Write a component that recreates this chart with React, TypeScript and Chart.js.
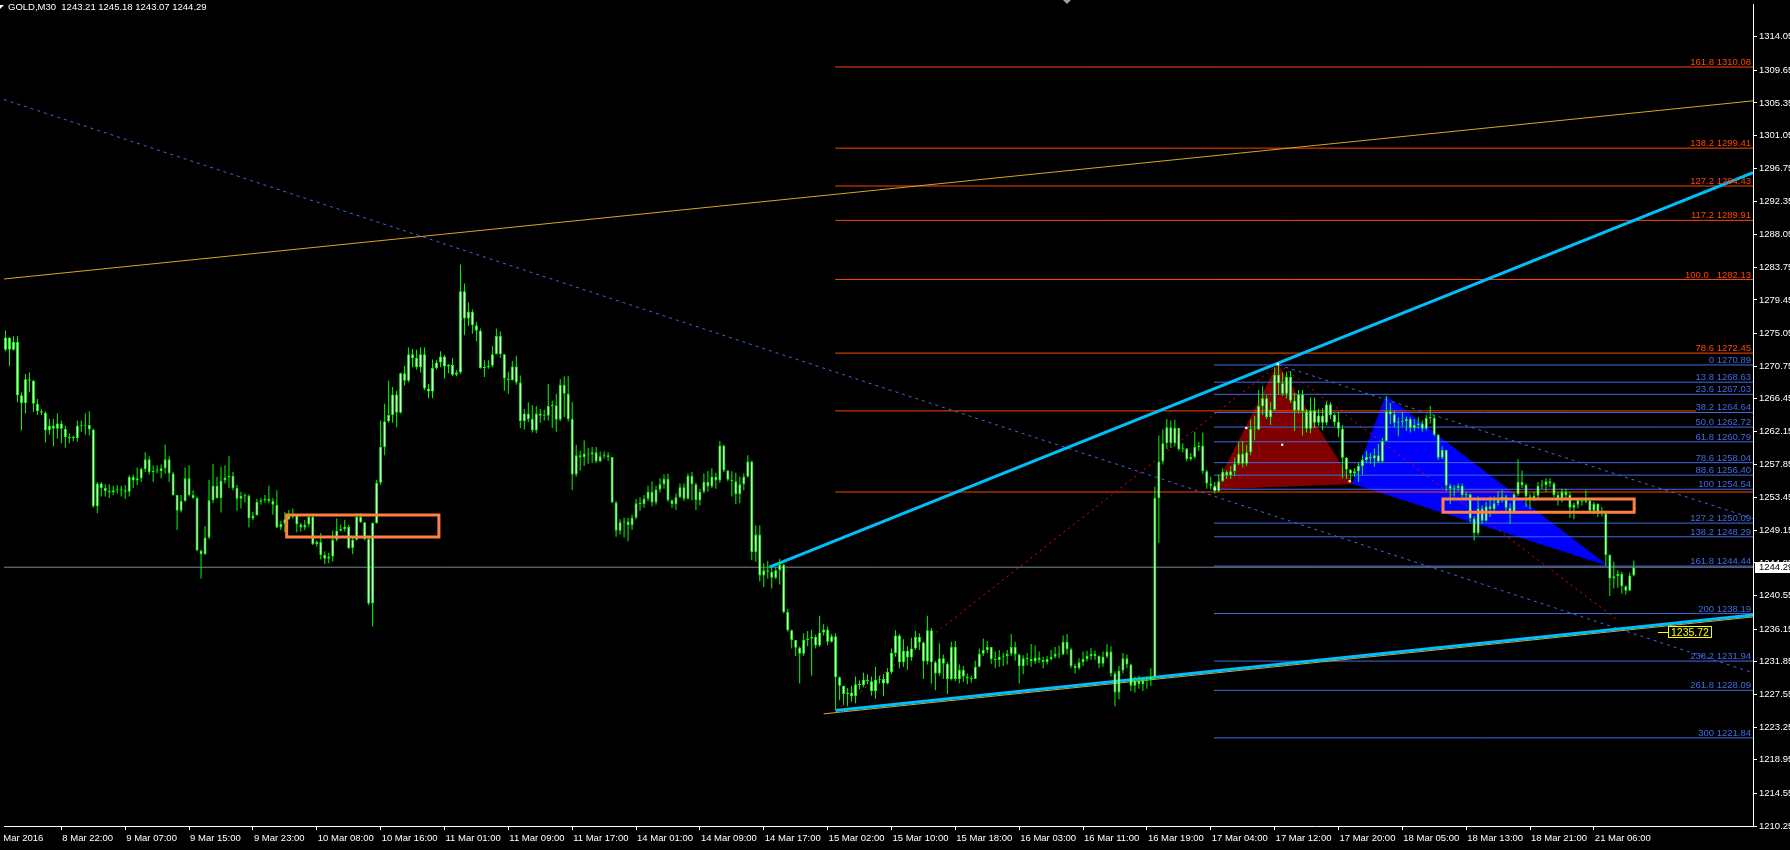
import React, { useEffect, useRef } from "react";
import { Chart, registerables } from "chart.js";

Chart.register(...registerables);

// ---------------- data ----------------
const SYMBOL = "GOLD,M30";
const FIRST_OPEN = 1272.9; // open of the first visible M30 bar (later opens = previous close)

const closes: number[] = [
  1274.5, 1272.9, 1273.9, 1266.9, 1265.9, 1269.0, 1268.8, 1265.8, 1264.8, 1264.6,
  1262.3, 1262.9, 1262.5, 1263.2, 1262.5, 1261.4, 1261.3, 1261.3, 1262.9, 1262.9,
  1263.0, 1262.4, 1252.3, 1255.3, 1254.7, 1254.3, 1254.1, 1254.4, 1254.5, 1254.4,
  1254.2, 1256.2, 1255.7, 1256.0, 1257.2, 1258.5, 1256.8, 1256.9, 1256.9, 1257.3,
  1258.5, 1256.6, 1253.8, 1251.7, 1253.0, 1256.0, 1253.8, 1253.4, 1246.5, 1246.0,
  1248.2, 1253.1, 1255.0, 1253.4, 1255.7, 1256.1, 1256.3, 1254.7, 1253.3, 1253.7,
  1253.7, 1250.7, 1251.1, 1252.9, 1253.1, 1253.3, 1253.0, 1252.5, 1249.5, 1250.0,
  1250.6, 1251.1, 1251.2, 1249.9, 1249.5, 1249.9, 1250.9, 1247.3, 1247.6, 1245.9,
  1245.4, 1245.7, 1247.9, 1249.1, 1249.3, 1249.6, 1246.8, 1247.9, 1250.9, 1250.2,
  1248.0, 1239.5, 1250.1, 1255.4, 1260.1, 1263.5, 1264.3, 1267.0, 1264.6, 1269.8,
  1268.8, 1272.3, 1271.8, 1270.6, 1272.3, 1267.8, 1267.4, 1270.5, 1271.2, 1272.0,
  1270.7, 1270.9, 1269.6, 1269.9, 1280.6, 1277.0, 1277.9, 1276.1, 1275.4, 1270.5,
  1270.6, 1270.8, 1272.3, 1274.7, 1272.3, 1269.1, 1268.9, 1270.7, 1268.6, 1263.5,
  1264.5, 1263.8, 1262.3, 1264.5, 1264.2, 1264.2, 1265.5, 1265.6, 1263.7, 1268.3,
  1267.1, 1263.8, 1256.5, 1259.0, 1258.8, 1259.2, 1259.1, 1259.4, 1258.2, 1258.9,
  1259.0, 1258.8, 1252.8, 1249.1, 1250.2, 1250.3, 1249.8, 1250.8, 1252.7, 1252.6,
  1253.3, 1254.2, 1252.8, 1254.5, 1255.2, 1255.9, 1253.1, 1252.6, 1253.5, 1254.8,
  1253.3, 1256.3, 1255.2, 1253.1, 1254.2, 1255.5, 1254.9, 1256.2, 1255.7, 1260.3,
  1257.0, 1255.8, 1255.6, 1253.9, 1255.2, 1256.2, 1258.2, 1246.3, 1248.6, 1243.2,
  1243.9, 1243.7, 1242.9, 1243.9, 1244.6, 1238.4, 1236.0, 1234.7, 1233.7, 1232.9,
  1234.7, 1234.9, 1235.1, 1234.0, 1235.7, 1236.1, 1234.5, 1235.2, 1229.8, 1228.7,
  1227.6, 1227.8, 1227.3, 1228.9, 1228.8, 1229.5, 1229.3, 1228.0, 1229.5, 1229.6,
  1229.0, 1230.5, 1233.0, 1235.3, 1231.8, 1233.3, 1232.4, 1233.6, 1235.1, 1234.4,
  1231.9, 1236.0, 1231.8, 1230.3, 1232.3, 1231.6, 1229.6, 1233.8, 1229.6, 1230.8,
  1229.9, 1229.7, 1229.6, 1231.2, 1232.9, 1233.4, 1233.8, 1232.2, 1232.1, 1232.5,
  1232.6, 1232.9, 1233.8, 1232.8, 1231.3, 1232.3, 1232.2, 1231.9, 1232.4, 1232.1,
  1231.8, 1232.2, 1232.5, 1232.9, 1232.8, 1234.5, 1233.5, 1231.3, 1231.0, 1231.8,
  1232.2, 1232.6, 1232.9, 1232.6, 1231.6, 1232.5, 1233.2, 1230.3, 1227.8, 1230.7,
  1232.3, 1231.5, 1228.7, 1229.4, 1228.9, 1229.4, 1229.5, 1229.8, 1253.4, 1258.2,
  1260.6, 1262.7, 1260.6, 1262.6, 1259.8, 1259.9, 1258.5, 1258.8, 1260.1, 1260.3,
  1256.9, 1255.3, 1255.0, 1254.3, 1255.6, 1256.8, 1256.4, 1256.9, 1257.9, 1259.2,
  1257.9, 1259.4, 1262.5, 1262.4, 1265.5, 1266.5, 1264.0, 1265.0, 1269.6, 1268.5,
  1267.1, 1269.3, 1266.2, 1264.9, 1267.0, 1264.8, 1262.5, 1264.9, 1263.3, 1264.2,
  1263.3, 1265.7, 1264.3, 1263.4, 1262.5, 1258.7, 1257.1, 1256.6, 1256.9, 1257.6,
  1258.4, 1258.8, 1258.6, 1259.0, 1258.2, 1260.9, 1264.8, 1264.4, 1263.3, 1263.4,
  1263.5, 1263.8, 1262.6, 1263.0, 1263.2, 1262.5, 1263.9, 1263.9, 1261.7, 1258.7,
  1259.7, 1255.0, 1254.6, 1254.7, 1255.0, 1253.8, 1253.9, 1250.7, 1248.8, 1252.0,
  1250.4, 1252.3, 1251.9, 1252.7, 1253.1, 1253.6, 1252.1, 1251.4, 1253.9, 1255.5,
  1255.1, 1253.6, 1253.3, 1253.7, 1255.0, 1255.1, 1255.6, 1255.3, 1253.8, 1253.1,
  1254.2, 1253.8, 1252.1, 1252.5, 1253.1, 1252.9, 1253.1, 1251.7, 1252.6, 1251.5,
  1251.4, 1245.9, 1242.8, 1243.1, 1243.4, 1241.8, 1241.2, 1243.21, 1244.29,
];

const highs: number[] = [
  1275.4, 1274.5, 1274.7, 1274.7, 1267.3, 1269.7, 1269.9, 1268.9, 1266.4, 1265.1,
  1264.8, 1263.8, 1263.8, 1264.5, 1263.6, 1262.9, 1261.9, 1261.6, 1263.6, 1263.6,
  1264.5, 1264.8, 1262.5, 1255.5, 1255.5, 1255.2, 1255.2, 1255.0, 1255.1, 1255.0,
  1255.1, 1256.4, 1256.5, 1257.4, 1257.4, 1259.4, 1258.9, 1257.7, 1257.7, 1257.8,
  1260.4, 1258.9, 1256.8, 1253.8, 1253.8, 1257.4, 1257.7, 1254.4, 1253.6, 1246.6,
  1249.7, 1255.8, 1257.9, 1256.2, 1257.5, 1257.7, 1258.9, 1256.8, 1255.1, 1254.2,
  1254.0, 1253.9, 1251.6, 1253.3, 1253.4, 1253.8, 1255.0, 1253.4, 1254.4, 1250.4,
  1251.6, 1251.8, 1252.0, 1251.3, 1250.1, 1250.5, 1251.2, 1251.2, 1247.8, 1248.8,
  1246.4, 1246.2, 1249.1, 1250.7, 1249.9, 1250.5, 1249.9, 1248.2, 1251.4, 1251.4,
  1250.2, 1248.3, 1250.2, 1255.8, 1263.6, 1265.8, 1268.8, 1268.0, 1267.5, 1269.9,
  1270.8, 1273.2, 1273.0, 1272.9, 1273.2, 1273.2, 1268.4, 1271.6, 1271.5, 1272.7,
  1272.2, 1271.0, 1271.8, 1270.2, 1284.1, 1281.6, 1279.1, 1278.2, 1276.5, 1275.7,
  1271.5, 1271.5, 1273.4, 1275.7, 1275.3, 1272.3, 1270.0, 1271.4, 1272.1, 1269.5,
  1265.1, 1266.0, 1265.6, 1265.5, 1265.1, 1265.0, 1268.4, 1266.2, 1267.1, 1269.0,
  1269.4, 1269.4, 1266.0, 1260.4, 1259.6, 1261.0, 1260.0, 1260.1, 1260.1, 1259.5,
  1259.5, 1259.4, 1258.8, 1253.0, 1250.6, 1250.8, 1250.8, 1251.2, 1253.3, 1253.5,
  1253.8, 1255.0, 1255.6, 1255.0, 1256.0, 1256.5, 1256.6, 1253.2, 1254.0, 1255.3,
  1255.3, 1256.6, 1256.8, 1255.4, 1254.6, 1256.6, 1256.9, 1257.3, 1256.7, 1260.9,
  1260.4, 1257.1, 1256.9, 1256.7, 1256.2, 1256.6, 1259.0, 1258.3, 1249.8, 1249.8,
  1244.8, 1245.1, 1244.3, 1244.3, 1245.4, 1244.7, 1238.8, 1236.1, 1234.7, 1233.9,
  1235.6, 1235.9, 1236.1, 1235.4, 1237.9, 1236.8, 1236.5, 1235.5, 1235.6, 1229.9,
  1228.7, 1228.4, 1228.7, 1229.9, 1229.4, 1230.4, 1230.2, 1229.9, 1231.2, 1230.0,
  1230.2, 1231.0, 1233.6, 1236.0, 1235.5, 1234.8, 1233.9, 1235.0, 1235.9, 1235.6,
  1234.5, 1237.9, 1236.3, 1232.0, 1234.3, 1232.8, 1231.8, 1234.5, 1234.6, 1231.5,
  1231.3, 1230.3, 1230.0, 1232.0, 1233.6, 1234.9, 1234.6, 1233.5, 1233.2, 1233.4,
  1233.0, 1233.4, 1235.5, 1234.5, 1232.9, 1232.7, 1233.0, 1234.2, 1234.0, 1233.2,
  1232.5, 1232.6, 1233.4, 1233.8, 1234.0, 1235.3, 1235.5, 1233.7, 1231.6, 1232.3,
  1233.2, 1233.3, 1233.7, 1233.3, 1232.7, 1233.2, 1234.2, 1233.9, 1230.6, 1231.3,
  1233.0, 1232.8, 1231.6, 1229.9, 1230.0, 1229.7, 1229.9, 1231.0, 1254.9, 1261.6,
  1262.4, 1263.8, 1263.6, 1263.7, 1261.8, 1260.6, 1260.0, 1259.3, 1262.1, 1260.8,
  1262.0, 1257.1, 1256.2, 1255.5, 1256.5, 1257.3, 1257.0, 1257.6, 1258.7, 1260.8,
  1260.9, 1260.4, 1263.7, 1264.2, 1267.6, 1268.1, 1266.9, 1266.0, 1270.6, 1271.0,
  1269.9, 1270.0, 1270.1, 1267.2, 1267.6, 1267.6, 1265.1, 1266.6, 1266.6, 1265.1,
  1265.2, 1266.1, 1266.0, 1264.5, 1264.7, 1263.0, 1258.8, 1257.2, 1257.3, 1258.0,
  1259.0, 1259.6, 1259.3, 1259.9, 1260.5, 1261.3, 1266.8, 1265.9, 1264.9, 1264.0,
  1264.7, 1264.1, 1264.0, 1263.8, 1264.0, 1263.6, 1264.3, 1265.5, 1264.3, 1261.8,
  1260.2, 1259.6, 1255.3, 1255.1, 1255.3, 1255.3, 1254.2, 1254.0, 1251.0, 1253.6,
  1252.4, 1252.9, 1253.6, 1253.6, 1254.3, 1254.4, 1253.8, 1252.7, 1254.1, 1258.5,
  1257.0, 1255.3, 1254.0, 1254.2, 1255.5, 1255.8, 1256.0, 1256.0, 1255.5, 1254.1,
  1254.6, 1254.6, 1254.2, 1252.8, 1253.3, 1253.3, 1254.4, 1253.0, 1252.9, 1252.7,
  1252.2, 1251.6, 1246.0, 1245.0, 1243.9, 1243.7, 1241.9, 1243.6, 1245.18,
];

const lows: number[] = [
  1272.7, 1270.8, 1272.8, 1266.0, 1262.3, 1264.5, 1267.3, 1264.7, 1264.3, 1264.3,
  1260.7, 1261.7, 1260.2, 1261.2, 1260.6, 1260.0, 1260.6, 1260.9, 1260.8, 1262.1,
  1261.7, 1261.6, 1252.1, 1251.4, 1253.6, 1253.6, 1253.4, 1253.8, 1254.0, 1253.6,
  1253.3, 1253.6, 1254.7, 1255.1, 1255.5, 1256.8, 1256.5, 1255.5, 1256.6, 1256.0,
  1256.6, 1255.5, 1253.7, 1249.2, 1251.5, 1252.9, 1253.6, 1253.3, 1246.4, 1242.8,
  1245.9, 1248.0, 1252.7, 1253.3, 1251.5, 1255.3, 1254.7, 1254.4, 1251.7, 1252.0,
  1252.8, 1249.5, 1250.5, 1251.1, 1252.5, 1252.8, 1252.7, 1251.2, 1249.4, 1249.2,
  1248.9, 1250.5, 1250.7, 1248.9, 1249.0, 1249.2, 1249.6, 1247.2, 1247.0, 1245.3,
  1244.7, 1244.8, 1245.0, 1247.7, 1249.0, 1249.0, 1246.7, 1246.0, 1247.8, 1250.1,
  1247.8, 1239.3, 1236.5, 1250.0, 1255.1, 1259.0, 1263.3, 1263.3, 1262.7, 1264.5,
  1268.2, 1268.6, 1270.6, 1270.3, 1269.9, 1267.6, 1266.5, 1266.5, 1270.3, 1270.6,
  1269.1, 1269.8, 1269.4, 1269.4, 1269.7, 1274.8, 1276.0, 1275.0, 1274.0, 1270.4,
  1269.3, 1270.4, 1270.6, 1272.3, 1271.8, 1267.5, 1267.1, 1268.8, 1268.3, 1262.6,
  1262.4, 1263.4, 1262.0, 1261.9, 1263.3, 1263.6, 1263.6, 1262.6, 1262.1, 1263.5,
  1264.0, 1263.5, 1254.4, 1256.2, 1257.0, 1257.6, 1257.9, 1258.0, 1258.0, 1258.1,
  1258.6, 1258.3, 1252.7, 1248.3, 1248.6, 1248.2, 1247.7, 1249.2, 1250.6, 1251.7,
  1252.1, 1253.0, 1252.3, 1252.5, 1254.1, 1254.6, 1252.9, 1252.1, 1251.8, 1253.4,
  1253.0, 1253.2, 1253.1, 1251.8, 1252.4, 1254.0, 1254.2, 1254.7, 1254.6, 1255.4,
  1256.8, 1255.6, 1253.6, 1252.6, 1252.7, 1254.4, 1256.1, 1245.2, 1245.0, 1242.4,
  1241.7, 1242.8, 1241.5, 1242.7, 1242.0, 1238.2, 1235.8, 1233.6, 1232.6, 1229.0,
  1232.6, 1233.9, 1230.0, 1233.6, 1233.8, 1235.3, 1234.0, 1234.4, 1225.5, 1226.8,
  1226.2, 1226.0, 1226.6, 1226.4, 1228.2, 1228.5, 1228.9, 1227.4, 1227.0, 1229.0,
  1227.3, 1228.9, 1230.2, 1232.5, 1231.0, 1231.2, 1230.8, 1232.0, 1233.4, 1233.4,
  1229.6, 1231.5, 1229.0, 1228.1, 1230.0, 1229.6, 1227.6, 1229.4, 1229.3, 1229.0,
  1229.2, 1228.9, 1229.1, 1229.7, 1231.1, 1232.6, 1233.0, 1231.6, 1231.0, 1231.2,
  1231.3, 1231.5, 1232.6, 1232.0, 1229.0, 1230.2, 1231.4, 1231.2, 1231.6, 1231.7,
  1231.0, 1231.5, 1232.0, 1232.3, 1232.3, 1232.7, 1232.8, 1231.0, 1230.3, 1230.8,
  1231.3, 1231.9, 1232.1, 1232.1, 1231.0, 1231.2, 1232.3, 1229.9, 1226.0, 1226.9,
  1230.3, 1231.0, 1228.0, 1227.8, 1228.3, 1228.0, 1228.3, 1228.7, 1229.5, 1247.5,
  1257.8, 1259.8, 1260.0, 1260.2, 1259.6, 1259.4, 1258.2, 1258.3, 1258.6, 1259.6,
  1256.6, 1254.6, 1254.5, 1254.0, 1254.2, 1255.5, 1255.9, 1255.9, 1256.3, 1257.7,
  1257.4, 1257.6, 1259.0, 1261.0, 1262.3, 1264.3, 1263.8, 1263.0, 1264.9, 1267.0,
  1266.8, 1266.5, 1265.9, 1262.2, 1264.5, 1261.6, 1262.0, 1261.9, 1262.6, 1262.9,
  1262.3, 1263.0, 1263.8, 1262.9, 1261.4, 1256.0, 1255.9, 1255.5, 1256.2, 1255.5,
  1256.5, 1258.0, 1257.9, 1257.5, 1258.0, 1258.0, 1260.9, 1263.1, 1262.7, 1261.5,
  1262.8, 1262.2, 1262.0, 1262.2, 1262.5, 1262.1, 1262.3, 1263.2, 1261.5, 1258.4,
  1258.5, 1254.3, 1252.6, 1253.6, 1254.3, 1253.5, 1253.1, 1250.2, 1247.8, 1248.5,
  1250.0, 1250.3, 1250.9, 1251.5, 1252.4, 1252.8, 1251.7, 1250.0, 1251.3, 1253.7,
  1254.7, 1252.2, 1251.9, 1253.0, 1253.4, 1254.6, 1254.2, 1254.8, 1253.5, 1252.4,
  1252.8, 1253.4, 1250.8, 1250.6, 1252.0, 1252.4, 1252.7, 1251.4, 1251.3, 1250.9,
  1251.0, 1244.5, 1240.5, 1241.5, 1241.6, 1240.8, 1240.7, 1241.2, 1243.07,
];

// time axis (bar index of each label) and labels
const xTickBars = [-2.8, 14, 30, 46, 62, 78, 94, 110, 126, 142, 158, 174, 190, 206, 222, 238, 254, 270, 286, 302, 318, 334, 350, 366, 382, 398];
const xTickLabels = [
  "7 Mar 2016", "8 Mar 22:00", "9 Mar 07:00", "9 Mar 15:00", "9 Mar 23:00", "10 Mar 08:00",
  "10 Mar 16:00", "11 Mar 01:00", "11 Mar 09:00", "11 Mar 17:00", "14 Mar 01:00", "14 Mar 09:00",
  "14 Mar 17:00", "15 Mar 02:00", "15 Mar 10:00", "15 Mar 18:00", "16 Mar 03:00", "16 Mar 11:00",
  "16 Mar 19:00", "17 Mar 04:00", "17 Mar 12:00", "17 Mar 20:00", "18 Mar 05:00", "18 Mar 13:00",
  "18 Mar 21:00", "21 Mar 06:00",
];
const yTickValues = [
  1314.05, 1309.65, 1305.35, 1301.05, 1296.75, 1292.35, 1288.05, 1283.75, 1279.45, 1275.05,
  1270.75, 1266.45, 1262.15, 1257.85, 1253.45, 1249.15, 1244.85, 1240.55, 1236.15, 1231.85,
  1227.55, 1223.25, 1218.95, 1214.55, 1210.25,
];

// visible window (bar index / price)
const X_MIN = -0.375;
const X_MAX = 437.875;
const Y_MIN = 1210.25;
const Y_MAX = 1318.37;

// Fibonacci objects
const ORANGE_FIB_START = 207.9;
const orangeFibPrices = [1310.08, 1299.41, 1294.43, 1289.91, 1282.13, 1272.45, 1264.85, 1254.18];
const orangeFibEnds = [X_MAX, X_MAX, X_MAX, X_MAX, X_MAX, X_MAX, 423.6, X_MAX];
const orangeFibLabels = ["161.8 1310.08", "138.2 1299.41", "127.2 1294.43", "117.2 1289.91", "100.0   1282.13", "78.6 1272.45", "", ""];

const BLUE_FIB_START = 302.8;
const blueFibPrices = [1270.89, 1268.63, 1267.03, 1264.64, 1262.72, 1260.79, 1258.04, 1256.40, 1254.54, 1250.09, 1248.29, 1244.44, 1238.19, 1231.94, 1228.09, 1221.84];
const blueFibLabels = ["0 1270.89", "13.8 1268.63", "23.6 1267.03", "38.2 1264.64", "50.0 1262.72", "61.8 1260.79", "78.6 1258.04", "88.6 1256.40", "100 1254.54", "127.2 1250.09", "138.2 1248.29", "161.8 1244.44", "200 1238.19", "238.2 1231.94", "261.8 1228.09", "300 1221.84"];

// trend lines: [bar, price] end points
const goldLongTrend = [[X_MIN, 1282.2], [X_MAX, 1305.63]];
const cyanUpperTrend = [[191.4, 1244.3], [X_MAX, 1296.2]];
const cyanLowerTrend = [[208.0, 1225.45], [X_MAX, 1238.0]];
const goldLowerTrend = [[205.0, 1225.0], [X_MAX, 1237.75]];
const blueDotLong = [[X_MIN, 1305.8], [X_MAX, 1230.4]];
const blueDotUpper = [[319.0, 1270.9], [X_MAX, 1250.7]];
const redDotXA = [[208.3, 1225.5], [319.0, 1271.0]];
const redDotAD = [[319.0, 1271.0], [404.3, 1237.2]];

// harmonic pattern (X, A, B) and (B, C, D)
const triangleXAB = [[303.0, 1254.6], [318.8, 1271.0], [337.6, 1255.3]];
const triangleBCD = [[337.6, 1255.3], [345.9, 1266.8], [401.1, 1244.6]];
const patternMarks = [[303.0, 1254.6], [310.9, 1262.6], [318.8, 1271.0], [319.9, 1260.4], [336.8, 1255.6]];

// rectangles: [bar from, bar to, price low, price high]
const rectangles = [
  [70.45, 108.6, 1248.25, 1251.17],
  [360.2, 408.1, 1251.53, 1253.27],
];

// price label object
const PRICE_LABEL_BAR = 414.1;
const PRICE_LABEL_VALUE = 1235.72;
const SHIFT_MARKER_BAR = 266;

// ---------------- styling ----------------
const FONT = "'Liberation Sans', Arial, Helvetica, sans-serif";
const LIME = "#00FF00";
const ORANGE_FIB = "#FF4500";
const BLUE_FIB = "#4169E1";
const CYAN = "#00BFFF";
const GOLD = "#DAA520";
const RECT = "#FF8040";

const N = closes.length;
const opens = closes.map((c, i) => (i === 0 ? FIRST_OPEN : closes[i - 1]));
const lastClose = closes[N - 1];

const pts = (arr: number[][]) => arr.map(([x, y]) => ({ x, y }));

function lineDs(data: any[], color: string, width: number, order: number, dash: number[] = []) {
  return {
    type: "line" as const,
    data,
    borderColor: color,
    backgroundColor: color,
    borderWidth: width,
    borderDash: dash,
    pointRadius: 0,
    pointHoverRadius: 0,
    fill: false,
    tension: 0,
    order,
  };
}

function buildDatasets() {
  const ds: any[] = [];
  // candles
  ds.push({
    type: "bar",
    data: closes.map((_, i) => ({ x: i, y: [lows[i], highs[i]] })),
    backgroundColor: LIME,
    borderWidth: 0,
    barThickness: 1,
    grouped: false,
    inflateAmount: 0,
    order: 4,
  });
  ds.push({
    type: "bar",
    data: closes.map((c, i) => ({ x: i, y: [opens[i], c] })),
    backgroundColor: "#FFFFFF",
    borderColor: LIME,
    borderWidth: 1,
    borderSkipped: false,
    barThickness: 3,
    minBarLength: 1,
    grouped: false,
    inflateAmount: 0,
    order: 3,
  });
  // triangles
  ds.push({
    ...lineDs(pts([...triangleXAB, triangleXAB[0]]), "#800000", 1, 11),
    fill: "shape",
    backgroundColor: "#800000",
  });
  ds.push({
    ...lineDs(pts([...triangleBCD, triangleBCD[0]]), "#0000FF", 1, 10),
    fill: "shape",
    backgroundColor: "#0000FF",
  });
  // fib lines
  orangeFibPrices.forEach((p, i) => {
    ds.push(lineDs([{ x: ORANGE_FIB_START, y: p }, { x: orangeFibEnds[i], y: p }], ORANGE_FIB, 1, 9));
  });
  blueFibPrices.forEach((p) => {
    ds.push(lineDs([{ x: BLUE_FIB_START, y: p }, { x: X_MAX, y: p }], BLUE_FIB, 1, 9));
  });
  // current price line
  ds.push(lineDs([{ x: X_MIN, y: lastClose }, { x: X_MAX, y: lastClose }], "#778899", 1, 8));
  // dotted / thin trend lines
  ds.push(lineDs(pts(goldLongTrend), GOLD, 1, 7));
  ds.push(lineDs(pts(blueDotLong), BLUE_FIB, 1, 7, [3, 4]));
  ds.push(lineDs(pts(blueDotUpper), BLUE_FIB, 1, 7, [3, 4]));
  ds.push(lineDs(pts(redDotXA), "#FF0000", 1, 7, [2, 4]));
  ds.push(lineDs(pts(redDotAD), "#FF0000", 1, 7, [2, 4]));
  // thick trend lines
  ds.push(lineDs(pts(goldLowerTrend), GOLD, 1, 6));
  ds.push(lineDs(pts(cyanLowerTrend), CYAN, 3, 5));
  ds.push(lineDs(pts(cyanUpperTrend), CYAN, 3, 5));
  // pattern marks
  ds.push({
    type: "line",
    data: pts(patternMarks),
    showLine: false,
    pointStyle: "rect",
    pointRadius: 1.6,
    pointBackgroundColor: "#FFFFFF",
    pointBorderColor: "#FFFFFF",
    pointBorderWidth: 0,
    fill: false,
    order: 2,
  });
  // rectangles
  rectangles.forEach(([x1, x2, y1, y2]) => {
    ds.push({
      ...lineDs(
        [
          { x: x1, y: y1 },
          { x: x1, y: y2 },
          { x: x2, y: y2 },
          { x: x2, y: y1 },
          { x: x1, y: y1 },
          { x: x1, y: y2 },
        ],
        RECT,
        3,
        1
      ),
      borderJoinStyle: "miter",
    });
  });
  return ds;
}

const overlayPlugin = {
  id: "mt4Overlay",
  beforeDraw(chart: any) {
    const { ctx, width, height } = chart;
    ctx.save();
    ctx.fillStyle = "#000000";
    ctx.fillRect(0, 0, width, height);
    ctx.restore();
  },
  afterDatasetsDraw(chart: any) {
    const { ctx, chartArea, scales } = chart;
    const xs = scales.x;
    const ys = scales.y;
    ctx.save();
    ctx.beginPath();
    ctx.rect(chartArea.left, chartArea.top, chartArea.right - chartArea.left, chartArea.bottom - chartArea.top);
    ctx.clip();
    ctx.font = `9.5px ${FONT}`;
    ctx.textAlign = "right";
    ctx.textBaseline = "alphabetic";
    const rx = chartArea.right - 2;
    ctx.fillStyle = ORANGE_FIB;
    orangeFibLabels.forEach((t, i) => {
      if (t) ctx.fillText(t, rx, Math.round(ys.getPixelForValue(orangeFibPrices[i])) - 2);
    });
    ctx.fillStyle = BLUE_FIB;
    blueFibLabels.forEach((t, i) => {
      ctx.fillText(t, rx, Math.round(ys.getPixelForValue(blueFibPrices[i])) - 2);
    });
    // price label object
    const px = Math.round(xs.getPixelForValue(PRICE_LABEL_BAR));
    const py = Math.round(ys.getPixelForValue(PRICE_LABEL_VALUE)) + 0.5;
    const txt = PRICE_LABEL_VALUE.toFixed(2);
    ctx.font = `10.5px ${FONT}`;
    const tw = ctx.measureText(txt).width;
    ctx.strokeStyle = "#FFFF00";
    ctx.lineWidth = 1;
    ctx.beginPath();
    ctx.moveTo(px, py);
    ctx.lineTo(px + 10, py);
    ctx.stroke();
    ctx.fillStyle = "#000000";
    ctx.fillRect(px + 10, py - 6.5, tw + 6, 12);
    ctx.strokeRect(px + 10.5, py - 6, tw + 5, 11);
    ctx.fillStyle = "#FFFF00";
    ctx.textAlign = "left";
    ctx.textBaseline = "middle";
    ctx.fillText(txt, px + 13, py + 0.5);
    ctx.restore();
  },
  afterDraw(chart: any) {
    const { ctx, chartArea, scales } = chart;
    const ys = scales.y;
    const xs = scales.x;
    ctx.save();
    // header
    ctx.fillStyle = "#FFFFFF";
    ctx.beginPath();
    ctx.moveTo(0, 5);
    ctx.lineTo(4, 5);
    ctx.lineTo(0, 9);
    ctx.closePath();
    ctx.fill();
    ctx.font = `9.5px ${FONT}`;
    ctx.textAlign = "left";
    ctx.textBaseline = "middle";
    const header = `${SYMBOL}  ${opens[N - 1].toFixed(2)} ${highs[N - 1].toFixed(2)} ${lows[N - 1].toFixed(2)} ${closes[N - 1].toFixed(2)}`;
    ctx.fillText(header, 8, 7.5);
    // chart shift marker
    const mx = Math.round(xs.getPixelForValue(SHIFT_MARKER_BAR));
    ctx.fillStyle = "#A0A0A0";
    ctx.beginPath();
    ctx.moveTo(mx - 4, 0);
    ctx.lineTo(mx + 4, 0);
    ctx.lineTo(mx, 4);
    ctx.closePath();
    ctx.fill();
    // current price box on axis
    const cy = Math.round(ys.getPixelForValue(lastClose));
    ctx.fillStyle = "#FFFFFF";
    ctx.fillRect(chartArea.right + 2, cy - 5, 40, 11);
    ctx.fillStyle = "#000000";
    ctx.fillText(lastClose.toFixed(2), chartArea.right + 6, cy + 0.5);
    ctx.restore();
  },
};

export default function App() {
  const ref = useRef<HTMLCanvasElement | null>(null);
  useEffect(() => {
    if (!ref.current) return;
    const tickFont = { family: FONT, size: 9.5 };
    const chart = new Chart(ref.current, {
      type: "bar",
      data: { datasets: buildDatasets() },
      options: {
        animation: false,
        responsive: false,
        maintainAspectRatio: false,
        devicePixelRatio: 1,
        events: [],
        layout: { padding: 0 },
        plugins: {
          legend: { display: false },
          tooltip: { enabled: false },
          title: { display: false },
        },
        scales: {
          x: {
            type: "linear",
            min: X_MIN,
            max: X_MAX,
            bounds: "data",
            offset: false,
            position: "bottom",
            grid: { display: true, drawOnChartArea: false, drawTicks: true, tickLength: 4, color: "#FFFFFF", offset: false },
            border: { display: true, color: "#FFFFFF", width: 1 },
            ticks: {
              autoSkip: false,
              maxRotation: 0,
              minRotation: 0,
              align: "start",
              labelOffset: 1,
              padding: 3,
              color: "#FFFFFF",
              font: tickFont,
              callback: (_v: any, i: number) => xTickLabels[i] ?? "",
            },
            afterBuildTicks: (axis: any) => {
              axis.ticks = xTickBars.map((v) => ({ value: v }));
            },
            afterFit: (axis: any) => {
              axis.height = 24;
              axis.paddingLeft = 0;
              axis.paddingRight = 0;
            },
          },
          y: {
            type: "linear",
            position: "right",
            min: Y_MIN,
            max: Y_MAX,
            bounds: "data",
            beginAtZero: false,
            grid: { display: true, drawOnChartArea: false, drawTicks: true, tickLength: 4, color: "#FFFFFF" },
            border: { display: true, color: "#FFFFFF", width: 1 },
            ticks: {
              autoSkip: false,
              padding: 2,
              color: "#FFFFFF",
              font: tickFont,
              callback: (v: any) => Number(v).toFixed(2),
            },
            afterBuildTicks: (axis: any) => {
              axis.ticks = yTickValues.map((v) => ({ value: v }));
            },
            afterFit: (axis: any) => {
              axis.width = 37;
              axis.paddingTop = 0;
              axis.paddingBottom = 0;
            },
          },
        },
      } as any,
      plugins: [overlayPlugin as any],
    });
    return () => chart.destroy();
  }, []);

  return (
    <div style={{ position: "fixed", left: 0, top: 0, width: 1790, height: 850, background: "#000", overflow: "hidden" }}>
      <canvas ref={ref} width={1790} height={850} style={{ display: "block", width: 1790, height: 850 }} />
    </div>
  );
}
